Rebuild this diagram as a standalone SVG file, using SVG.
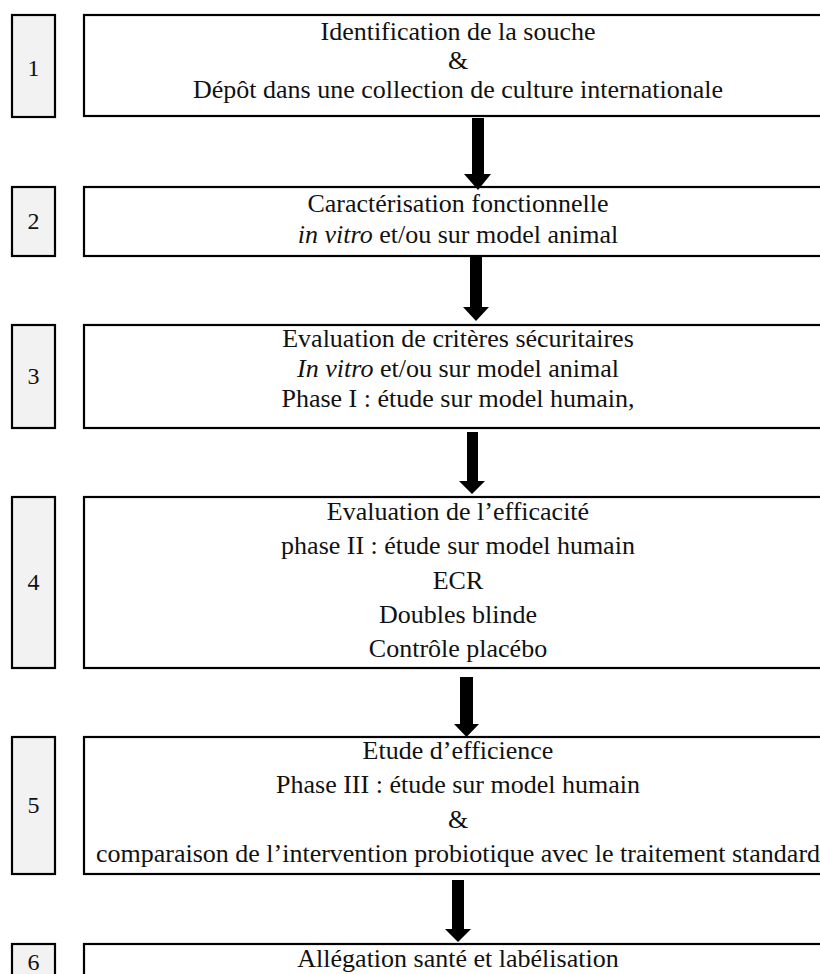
<svg xmlns="http://www.w3.org/2000/svg" width="820" height="974" viewBox="0 0 820 974">
<style>
.num{fill:#f2f2f2;stroke:#000;stroke-width:2.2}
.box{fill:#fff;stroke:#000;stroke-width:2.2}
.t{font-family:"Liberation Serif","Times New Roman",serif;font-size:26px;fill:#111;text-anchor:middle}
.n{font-family:"Liberation Serif","Times New Roman",serif;font-size:24px;fill:#111;text-anchor:middle}
.arr{fill:#000}
</style>
<rect width="820" height="974" fill="#fff"/>
<g id="step1">
<rect class="num" x="12" y="15" width="43" height="102"/>
<text class="n" x="33.5" y="76">1</text>
<rect class="box" x="84" y="15" width="760" height="101"/>
<text class="t" x="458" y="40">Identification de la souche</text>
<text class="t" x="458" y="69">&amp;</text>
<text class="t" x="458" y="98">Dépôt dans une collection de culture internationale</text>
</g>
<g id="step2">
<rect class="num" x="12" y="187" width="43" height="69"/>
<text class="n" x="33.5" y="229">2</text>
<rect class="box" x="84" y="187" width="760" height="69"/>
<text class="t" x="458" y="212">Caractérisation fonctionnelle</text>
<text class="t" x="458" y="243"><tspan font-style="italic">in vitro</tspan> et/ou sur model animal</text>
</g>
<g id="step3">
<rect class="num" x="12" y="325" width="43" height="103"/>
<text class="n" x="33.5" y="384">3</text>
<rect class="box" x="84" y="325" width="760" height="103"/>
<text class="t" x="458" y="347">Evaluation de critères sécuritaires</text>
<text class="t" x="458" y="377"><tspan font-style="italic">In vitro</tspan> et/ou sur model animal</text>
<text class="t" x="458" y="407">Phase I : étude sur model humain,</text>
</g>
<g id="step4">
<rect class="num" x="12" y="497" width="43" height="171"/>
<text class="n" x="33.5" y="590">4</text>
<rect class="box" x="84" y="497" width="760" height="171"/>
<text class="t" x="458" y="520">Evaluation de l’efficacité</text>
<text class="t" x="458" y="554">phase II : étude sur model humain</text>
<text class="t" x="458" y="588.5">ECR</text>
<text class="t" x="458" y="623">Doubles blinde</text>
<text class="t" x="458" y="657">Contrôle placébo</text>
</g>
<g id="step5">
<rect class="num" x="12" y="737" width="43" height="137"/>
<text class="n" x="33.5" y="813">5</text>
<rect class="box" x="84" y="737" width="760" height="137"/>
<text class="t" x="458" y="759">Etude d’efficience</text>
<text class="t" x="458" y="793">Phase III : étude sur model humain</text>
<text class="t" x="458" y="828">&amp;</text>
<text class="t" x="458" y="862">comparaison de l’intervention probiotique avec le traitement standard</text>
</g>
<g id="step6">
<rect class="num" x="12" y="944" width="43" height="40"/>
<text class="n" x="33.5" y="970">6</text>
<rect class="box" x="84" y="944" width="760" height="40"/>
<text class="t" x="458" y="967">Allégation santé et labélisation</text>
</g>
<g id="connectors">
<polygon class="arr" points="472,118 484,118 484,174 491,174 478,190 464,174 472,174"/>
<polygon class="arr" points="470,257 482,257 482,307 489,307 476,321 463,307 470,307"/>
<polygon class="arr" points="467,432 478,432 478,481 485,481 472,494 459,481 467,481"/>
<polygon class="arr" points="460,677 473,677 473,724 479,724 466.5,737 454,724 460,724"/>
<polygon class="arr" points="452,880 464,880 464,929 471,929 458,942 445,929 452,929"/>
</g>
</svg>
